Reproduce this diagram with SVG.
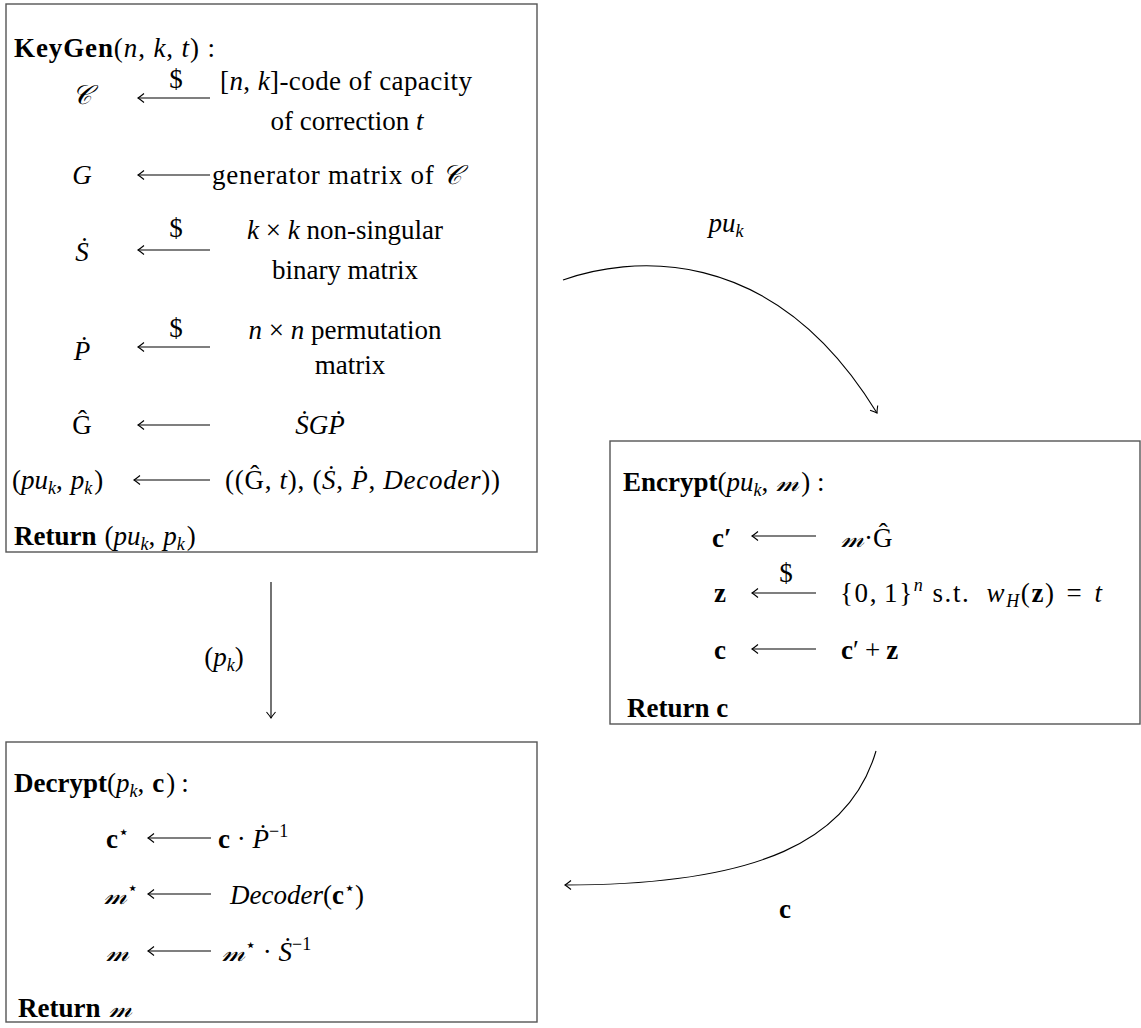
<svg xmlns="http://www.w3.org/2000/svg" width="1141" height="1028" viewBox="0 0 1141 1028">
<style>
.t{font-family:"Liberation Serif","DejaVu Serif",serif;font-size:27px;fill:#000}
.i{font-style:italic}
.b{font-weight:bold}
.s{font-size:18px}
.box{fill:#fff;stroke:#555;stroke-width:1.4}
.la{stroke:#000;stroke-width:1.1;fill:none;marker-end:url(#tip)}
.cn{stroke:#000;stroke-width:1.1;fill:none;marker-end:url(#tip)}
</style>
<defs>
<marker id="tip" viewBox="-8 -6 10 12" markerWidth="10" markerHeight="12" refX="0" refY="0" orient="auto" markerUnits="userSpaceOnUse">
<path d="M-6,-4.5 Q-2,-1.2 0,0 Q-2,1.2 -6,4.5" fill="none" stroke="#000" stroke-width="1.1"/>
</marker>
</defs>
<rect width="1141" height="1028" fill="#fff"/>

<g id="keygen">
<rect class="box" x="6" y="4" width="531" height="548"/>
<text class="t" x="14" y="57" textLength="201"><tspan class="b">KeyGen</tspan>(<tspan class="i">n</tspan>, <tspan class="i">k</tspan>, <tspan class="i">t</tspan>) :</text>
<text class="t i" x="82" y="104" text-anchor="middle">𝒞</text>
<text class="t" x="176" y="88" text-anchor="middle">$</text>
<line class="la" x1="210" y1="98" x2="138" y2="98"/>
<text class="t" x="220" y="90" textLength="252">[<tspan class="i">n</tspan>, <tspan class="i">k</tspan>]-code of capacity</text>
<text class="t" x="347" y="130" text-anchor="middle">of correction <tspan class="i">t</tspan></text>

<text class="t i" x="82" y="184" text-anchor="middle">G</text>
<line class="la" x1="210" y1="175" x2="138" y2="175"/>
<text class="t" x="212" y="184" textLength="250">generator matrix of <tspan class="i">𝒞</tspan></text>

<text class="t i" x="82" y="261" text-anchor="middle">Ṡ</text>
<text class="t" x="176" y="237" text-anchor="middle">$</text>
<line class="la" x1="210" y1="250" x2="138" y2="250"/>
<text class="t" x="345" y="239" text-anchor="middle"><tspan class="i">k</tspan> × <tspan class="i">k</tspan> non-singular</text>
<text class="t" x="345" y="279" text-anchor="middle">binary matrix</text>

<text class="t i" x="82" y="360" text-anchor="middle">Ṗ</text>
<text class="t" x="176" y="337" text-anchor="middle">$</text>
<line class="la" x1="210" y1="347" x2="138" y2="347"/>
<text class="t" x="345" y="339" text-anchor="middle"><tspan class="i">n</tspan> × <tspan class="i">n</tspan> permutation</text>
<text class="t" x="350" y="374" text-anchor="middle">matrix</text>

<text class="t" x="82" y="434" text-anchor="middle">Ĝ</text>
<line class="la" x1="210" y1="425" x2="138" y2="425"/>
<text class="t i" x="320" y="434" text-anchor="middle">ṠGṖ</text>

<text class="t" x="12" y="489">(<tspan class="i">pu</tspan><tspan class="s i" dy="5">k</tspan><tspan dy="-5">,</tspan><tspan class="i" dx="8">p</tspan><tspan class="s i" dy="5">k</tspan><tspan dy="-5" dx="2">)</tspan></text>
<line class="la" x1="210" y1="480" x2="134" y2="480"/>
<text class="t" x="225" y="489" textLength="275">((Ĝ, <tspan class="i">t</tspan>), (<tspan class="i">Ṡ</tspan>, <tspan class="i">Ṗ</tspan>, <tspan class="i">Decoder</tspan>))</text>

<text class="t" x="14" y="545"><tspan class="b">Return</tspan><tspan dx="8">(</tspan><tspan class="i">pu</tspan><tspan class="s i" dy="5">k</tspan><tspan dy="-5">,</tspan><tspan class="i" dx="8">p</tspan><tspan class="s i" dy="5">k</tspan><tspan dy="-5" dx="2">)</tspan></text>
</g>

<g id="encrypt">
<rect class="box" x="610" y="441" width="530" height="283"/>
<text class="t" x="623" y="491"><tspan class="b">Encrypt</tspan>(<tspan class="i">pu</tspan><tspan class="s i" dy="5">k</tspan><tspan dy="-5">,</tspan><tspan class="i" dx="8">𝓂</tspan><tspan dx="2">) :</tspan></text>
<text class="t b" x="712" y="547">c′</text>
<line class="la" x1="816" y1="536" x2="752" y2="536"/>
<text class="t" x="841" y="547"><tspan class="i">𝓂</tspan>·Ĝ</text>
<text class="t" x="786" y="582" text-anchor="middle">$</text>
<text class="t b" x="714" y="602">z</text>
<line class="la" x1="816" y1="593" x2="752" y2="593"/>
<text class="t" x="840" y="602" textLength="262">{0,<tspan dx="6">1}</tspan><tspan class="s i" dy="-11">n</tspan><tspan dy="11" dx="8">s.t.</tspan><tspan class="i" dx="16">w</tspan><tspan class="s i" dy="5">H</tspan><tspan dy="-5">(</tspan><tspan class="b">z</tspan>)<tspan dx="11">=</tspan><tspan class="i" dx="11">t</tspan></text>
<text class="t b" x="714" y="659">c</text>
<line class="la" x1="816" y1="649" x2="752" y2="649"/>
<text class="t" x="841" y="659"><tspan class="b">c</tspan>′<tspan dx="6">+</tspan><tspan class="b" dx="6">z</tspan></text>
<text class="t" x="627" y="717"><tspan class="b">Return c</tspan></text>
</g>

<g id="decrypt">
<rect class="box" x="6" y="742" width="531" height="280"/>
<text class="t" x="14" y="792"><tspan class="b">Decrypt</tspan>(<tspan class="i">p</tspan><tspan class="s i" dy="5">k</tspan><tspan dy="-5">,</tspan><tspan class="b" dx="8">c</tspan><tspan dx="2">)</tspan><tspan dx="6">:</tspan></text>
<text class="t" x="106" y="848"><tspan class="b">c</tspan><tspan class="s" dy="-10">⋆</tspan></text>
<line class="la" x1="211" y1="838" x2="148" y2="838"/>
<text class="t" x="218" y="848"><tspan class="b">c</tspan> · <tspan class="i">Ṗ</tspan><tspan class="s" dy="-11">−1</tspan></text>
<text class="t" x="104" y="904"><tspan class="i">𝓂</tspan><tspan class="s" dy="-10">⋆</tspan></text>
<line class="la" x1="211" y1="894" x2="148" y2="894"/>
<text class="t" x="230" y="904"><tspan class="i">Decoder</tspan>(<tspan class="b">c</tspan><tspan class="s" dy="-10">⋆</tspan><tspan dy="10">)</tspan></text>
<text class="t i" x="106" y="961">𝓂</text>
<line class="la" x1="211" y1="951" x2="148" y2="951"/>
<text class="t" x="222" y="961"><tspan class="i">𝓂</tspan><tspan class="s" dy="-10">⋆</tspan><tspan dy="10"> · </tspan><tspan class="i">Ṡ</tspan><tspan class="s" dy="-11">−1</tspan></text>
<text class="t" x="18" y="1017"><tspan class="b">Return</tspan><tspan class="i" dx="8">𝓂</tspan></text>
</g>

<g id="connectors">
<path class="cn" d="M563,280 C625,258 770,238 877,413"/>
<text class="t" x="726" y="232" text-anchor="middle"><tspan class="i">pu</tspan><tspan class="s i" dy="5">k</tspan></text>
<line class="cn" x1="271" y1="582" x2="271" y2="718"/>
<text class="t" x="224" y="666" text-anchor="middle">(<tspan class="i">p</tspan><tspan class="s i" dy="5">k</tspan><tspan dy="-5">)</tspan></text>
<path class="cn" d="M876,751 C850,840 760,885 565,885"/>
<text class="t b" x="785" y="918" text-anchor="middle">c</text>
</g>
</svg>
